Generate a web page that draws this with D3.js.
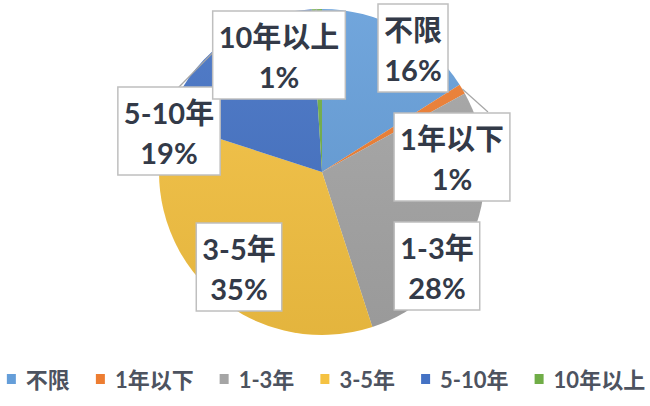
<!DOCTYPE html>
<html>
<head>
<meta charset="utf-8">
<script src="https://cdn.jsdelivr.net/npm/d3@7"></script>
<style>
  body { margin: 0; background: #fff; }
  svg { display: block; }
</style>
</head>
<body>
<div id="chart"></div>
<script>
const width = 650,
      height = 406,
      cx = 322,
      cy = 172,
      radius = 163,
      label_font = "Lato, 'Noto Sans CJK SC', sans-serif",
      label_size = 29,
      legend_size = 22

// data
const categories = ['不限', '1年以下', '1-3年', '3-5年', '5-10年', '10年以上']
const values = [16, 1, 28, 35, 19, 1]
const colors = ['#659ED9', '#ED7D31', '#A5A5A5', '#F5C242', '#4472C4', '#70AD47']

// where each callout box sits (centre) and where its leader line starts
const label_centers = [[413, 48], [452, 157], [437, 266], [239, 267], [169, 131], [279, 55]]
const leader_starts = [null, [488, 112], null, null, [178, 88], [313, 15]]

const svg = d3.select('#chart').append('svg')
  .attr('width', width)
  .attr('height', height)

const defs = svg.append('defs')
const shade = defs.append('linearGradient')
  .attr('id', 'shade')
  .attr('x1', 0).attr('y1', 0).attr('x2', 0).attr('y2', 1)
shade.append('stop').attr('offset', '0%').attr('stop-color', '#fff').attr('stop-opacity', 0.08)
shade.append('stop').attr('offset', '100%').attr('stop-color', '#000').attr('stop-opacity', 0.07)

const pie = d3.pie().sort(null).value(d => d)
const arcs = pie(values)
const arc = d3.arc().innerRadius(0).outerRadius(radius)

const pie_g = svg.append('g').attr('transform', `translate(${cx},${cy})`)

pie_g.selectAll('path.slice')
  .data(arcs)
  .enter()
  .append('path')
  .attr('class', 'slice')
  .attr('d', arc)
  .style('fill', (d, i) => colors[i])

pie_g.append('circle')
  .attr('r', radius)
  .style('fill', 'url(#shade)')

// leader lines
arcs.forEach((d, i) => {
  if (!leader_starts[i]) return
  let mid = (d.startAngle + d.endAngle) / 2
  let ex = cx + radius * Math.sin(mid),
      ey = cy - radius * Math.cos(mid)
  svg.append('line')
    .attr('x1', leader_starts[i][0])
    .attr('y1', leader_starts[i][1])
    .attr('x2', ex)
    .attr('y2', ey)
    .style('stroke', '#A6A6A6')
    .style('stroke-width', 1.2)
})

// callout boxes
const total = d3.sum(values)
arcs.forEach((d, i) => {
  let g = svg.append('g')
    .attr('transform', `translate(${label_centers[i][0]},${label_centers[i][1]})`)
  let rect = g.append('rect')
  let lines = [categories[i], d3.format('.0%')(values[i] / total)]
  let widths = []
  lines.forEach((t, j) => {
    let txt = g.append('text')
      .attr('x', 0)
      .attr('y', j == 0 ? -19 : 21)
      .attr('text-anchor', 'middle')
      .attr('dominant-baseline', 'central')
      .style('font-family', label_font)
      .style('font-size', label_size + 'px')
      .style('font-weight', 'bold')
      .style('fill', '#333A48')
      .text(t)
    widths.push(txt.node().getComputedTextLength())
  })
  let w = d3.max(widths) + 12,
      h = 88
  rect.attr('x', -w / 2)
    .attr('y', -h / 2)
    .attr('width', w)
    .attr('height', h)
    .style('fill', '#fff')
    .style('stroke', '#BFBFBF')
    .style('stroke-width', 1.5)
})

// legend
const legend = svg.append('g')
let lx = 0
categories.forEach((c, i) => {
  let item = legend.append('g').attr('transform', `translate(${lx},0)`)
  item.append('rect')
    .attr('x', 0)
    .attr('y', -5)
    .attr('width', 9)
    .attr('height', 10)
    .style('fill', colors[i])
  let t = item.append('text')
    .attr('x', 19)
    .attr('y', 0)
    .attr('dominant-baseline', 'central')
    .style('font-family', label_font)
    .style('font-size', legend_size + 'px')
    .style('font-weight', 'bold')
    .style('fill', '#4D5360')
    .text(c)
  lx += 19 + t.node().getComputedTextLength() + 26
})
lx -= 26
legend.attr('transform', `translate(${(width - lx) / 2 + 1},379)`)
</script>
</body>
</html>
